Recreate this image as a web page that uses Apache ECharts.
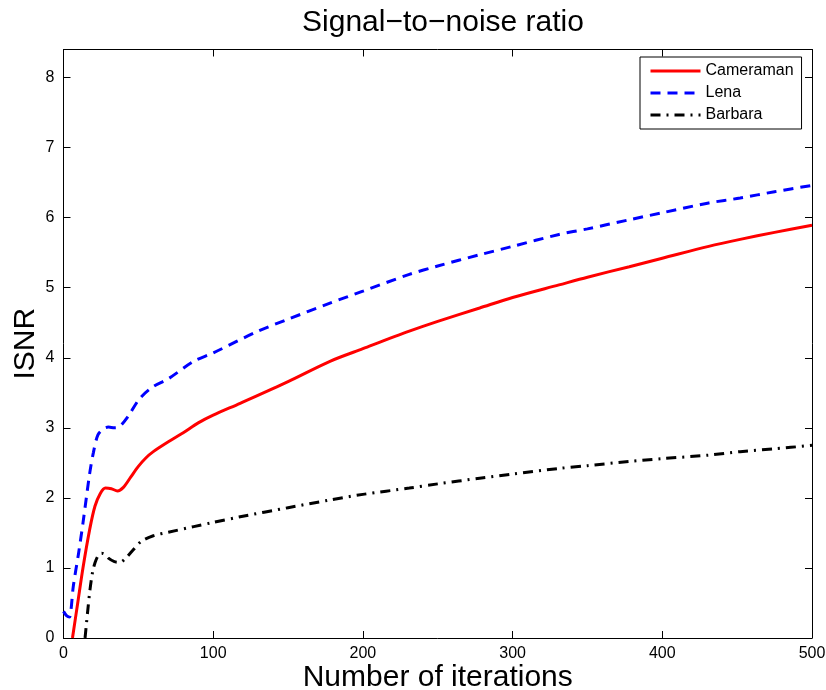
<!DOCTYPE html>
<html lang="en">
<head>
    <meta charset="UTF-8">
    <title>Signal-to-noise ratio</title>
    <style>
        html, body { margin: 0; padding: 0; background: #fff; }
    </style>
</head>
<body>
<div id="main" style="width:826px;height:690px;"></div>
<script src="https://cdn.jsdelivr.net/npm/echarts@6/dist/echarts.min.js"></script>
<script>
    // iterations / ISNR
    var camX = [6, 9.5, 13, 17.5, 21, 24.5, 28, 32, 36, 40, 45, 50, 55, 60, 70, 80, 90, 100, 118, 150, 178, 200, 231, 250, 278, 300, 331, 350, 378, 400, 431, 452, 475, 500];
    var camY = [0, 0.5, 1.0, 1.55, 1.88, 2.06, 2.14, 2.13, 2.10, 2.15, 2.3, 2.45, 2.57, 2.66, 2.8, 2.93, 3.07, 3.18, 3.35, 3.66, 3.95, 4.13, 4.38, 4.52, 4.71, 4.86, 5.04, 5.15, 5.30, 5.42, 5.59, 5.69, 5.79, 5.89];

    var lenaX = [0, 2, 4, 5, 6.5, 10, 13, 17.5, 20, 23, 27, 30, 34, 37, 43, 51, 60, 70, 87, 100, 130, 150, 178, 200, 231, 250, 278, 300, 331, 350, 378, 400, 431, 452, 475, 500];
    var lenaY = [0.38, 0.32, 0.3, 0.4, 0.73, 1.2, 1.64, 2.35, 2.65, 2.9, 2.99, 3.01, 3.0, 3.01, 3.16, 3.42, 3.59, 3.7, 3.95, 4.07, 4.38, 4.55, 4.78, 4.95, 5.19, 5.31, 5.47, 5.59, 5.76, 5.84, 5.97, 6.07, 6.21, 6.28, 6.37, 6.46];

    var barbX = [14.4, 16, 17.7, 19.5, 21, 23, 25.5, 28, 30, 34, 37.7, 42, 46.6, 52, 60, 70, 87, 100, 118, 150, 178, 200, 231, 250, 278, 300, 331, 350, 378, 400, 431, 452, 475, 500];
    var barbY = [0, 0.35, 0.69, 0.95, 1.07, 1.17, 1.21, 1.19, 1.14, 1.09, 1.08, 1.15, 1.26, 1.38, 1.46, 1.51, 1.59, 1.65, 1.73, 1.86, 1.97, 2.05, 2.14, 2.2, 2.28, 2.34, 2.42, 2.46, 2.52, 2.56, 2.61, 2.66, 2.70, 2.75];

    var seriesNames = ['Cameraman', 'Lena', 'Barbara'];

    function zip(xs, ys) {
        var out = [];
        for (var i = 0; i < xs.length; i++) out.push([xs[i], ys[i]]);
        return out;
    }

    var font = 'Liberation Sans, Arial, Helvetica, sans-serif';

    function boxAxis(pos, isX) {
        return {
            type: 'value',
            position: pos,
            min: 0,
            max: isX ? 500 : 8.4,
            interval: isX ? 100 : 1,
            axisLine: {show: true, onZero: false, lineStyle: {color: '#000', width: 1}},
            axisTick: {show: true, inside: true, length: 7, lineStyle: {color: '#000'}},
            axisLabel: {show: false},
            splitLine: {show: false}
        };
    }

    var myChart = echarts.init(document.getElementById('main'));

    var xMain = boxAxis('bottom', true);
    xMain.axisLabel = {show: true, color: '#000', fontSize: 16, fontFamily: font, margin: 8};
    xMain.name = 'Number of iterations';
    xMain.nameLocation = 'middle';
    xMain.nameGap = 25;
    xMain.nameMoveOverlap = false;
    xMain.nameTextStyle = {color: '#000', fontSize: 30, fontFamily: font, verticalAlign: 'top'};

    var yMain = boxAxis('left', false);
    yMain.axisLabel = {show: true, color: '#000', fontSize: 16, fontFamily: font, margin: 9, showMaxLabel: false};
    yMain.name = 'ISNR';
    yMain.nameLocation = 'middle';
    yMain.nameGap = 23;
    yMain.nameMoveOverlap = false;
    yMain.nameTextStyle = {color: '#000', fontSize: 30, fontFamily: font};

    var option = {
        animation: false,
        backgroundColor: '#fff',
        title: {
            text: 'Signal\u2212to\u2212noise ratio',
            left: 438,
            textAlign: 'center',
            top: 3,
            textStyle: {color: '#000', fontSize: 30, fontWeight: 'normal', fontFamily: font}
        },
        grid: {left: 63.5, right: 14, top: 49.5, bottom: 52, outerBoundsMode: 'none', containLabel: false},
        legend: {
            orient: 'vertical',
            left: 640,
            top: 57,
            padding: [6, 8, 6, 9],
            itemGap: 6,
            itemWidth: 50,
            itemHeight: 14,
            borderColor: '#000',
            borderWidth: 1,
            backgroundColor: '#fff',
            itemStyle: {opacity: 0},
            lineStyle: {width: 3},
            textStyle: {color: '#000', fontSize: 16, fontFamily: font},
            data: seriesNames
        },
        xAxis: [xMain, boxAxis('top', true)],
        yAxis: [yMain, boxAxis('right', false)],
        series: [
            {
                name: seriesNames[0],
                type: 'line',
                data: zip(camX, camY),
                symbol: 'none',
                smooth: 0.3,
                color: '#ff0000',
                lineStyle: {color: '#ff0000', width: 3}
            },
            {
                name: seriesNames[1],
                type: 'line',
                data: zip(lenaX, lenaY),
                symbol: 'none',
                smooth: 0.3,
                color: '#0000ff',
                lineStyle: {color: '#0000ff', width: 3, type: [10, 7]}
            },
            {
                name: seriesNames[2],
                type: 'line',
                data: zip(barbX, barbY),
                symbol: 'none',
                smooth: 0.3,
                color: '#000',
                lineStyle: {color: '#000', width: 3, type: [10, 6, 2, 6]}
            }
        ]
    };

    myChart.setOption(option);
</script>
</body>
</html>
